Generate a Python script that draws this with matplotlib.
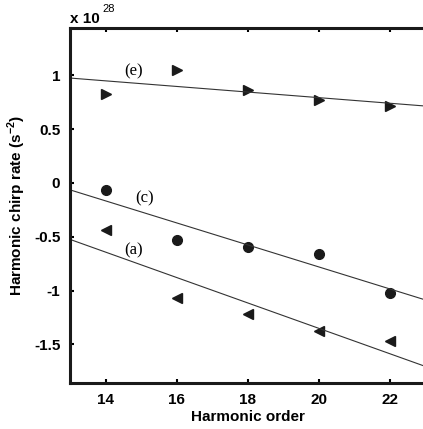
import matplotlib
matplotlib.use("Agg")
import matplotlib.pyplot as plt
import numpy as np

# Harmonic orders and chirp rates (units of 1e28 s^-2)
orders = [14, 16, 18, 20, 22]
rate_e = [0.83, 1.05, 0.86, 0.77, 0.71]
rate_c = [-0.065, -0.53, -0.60, -0.665, -1.02]
rate_a = [-0.44, -1.07, -1.22, -1.38, -1.465]

plt.rcParams['font.family'] = ['Liberation Sans', 'DejaVu Sans']
plt.rcParams['font.weight'] = 'bold'
plt.rcParams['mathtext.fontset'] = 'custom'
plt.rcParams['mathtext.rm'] = 'Liberation Sans'
plt.rcParams['mathtext.bf'] = 'Liberation Sans:bold'

fig = plt.figure(figsize=(4.23, 4.29), dpi=100)
ax = fig.add_axes([0.1655, 0.107, 0.84, 0.828])

xfit = np.array([13, 23])
for rates, marker in [(rate_e, '>'), (rate_c, 'o'), (rate_a, '<')]:
    ax.plot(orders, rates, linestyle='none', marker=marker, color='#1a1a1a',
            markersize=7.5 if marker != 'o' else 7)
    k, b = np.polyfit(orders, rates, 1)
    ax.plot(xfit, k * xfit + b, color='#333333', linewidth=0.8)

# curve labels
serif = dict(family='Liberation Serif', fontsize=12, fontweight='normal')
ax.text(14.8, 1.04, '(e)', ha='center', va='center', **serif)
ax.text(15.1, -0.14, '(c)', ha='center', va='center', **serif)
ax.text(14.8, -0.63, '(a)', ha='center', va='center', **serif)

ax.set_xlim(13, 23)
ax.set_ylim(-1.86, 1.44)
ax.set_xticks([14, 16, 18, 20, 22])
ax.set_yticks([-1.5, -1, -0.5, 0, 0.5, 1])
ax.set_yticklabels(['-1.5', '-1', '-0.5', '0', '0.5', '1'])
ax.tick_params(direction='in', length=3, width=1.5, top=True, right=False,
               labelsize=11, pad=7)
for lab in ax.get_xticklabels() + ax.get_yticklabels():
    lab.set_fontweight('bold')
for sp in ax.spines.values():
    sp.set_linewidth(2.2)
    sp.set_color('#1a1a1a')

ax.set_xlabel('Harmonic order', fontsize=11, fontweight='bold', labelpad=2)
ax.set_ylabel('Harmonic chirp rate (s$^{-2}$)', fontsize=11,
              fontweight='bold', labelpad=4)
fig.text(0.165, 0.955, 'x 10', fontsize=11, fontweight='bold',
         ha='left', va='center')
fig.text(0.243, 0.978, '28', fontsize=8, fontweight='normal',
         ha='left', va='center')

fig.savefig('out.png', dpi=100)
